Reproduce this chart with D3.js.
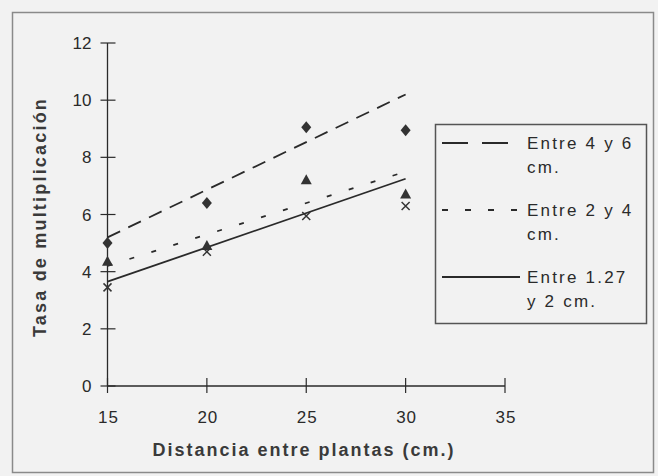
<!DOCTYPE html>
<html>
<head>
<meta charset="utf-8">
<script src="https://cdn.jsdelivr.net/npm/d3@7"></script>
<style>
  html, body { margin: 0; padding: 0; background: #f2f2f2; }
  svg { display: block; font-family: "Liberation Sans", Arial, sans-serif; }
</style>
</head>
<body>
<svg id="chart" width="658" height="476"></svg>
<script>
// Distancia entre plantas (cm.)
const distancias = [15, 20, 25, 30];
const xTicks = [15, 20, 25, 30, 35];
const yTicks = [0, 2, 4, 6, 8, 10, 12];

// Tasa de multiplicación por tamaño
const entre4y6 = [5.0, 6.4, 9.05, 8.95];
const entre2y4 = [4.35, 4.9, 7.2, 6.7];
const entre127y2 = [3.45, 4.7, 5.95, 6.3];

// Líneas de tendencia (valor en 15 y en 30)
const tendencia4y6 = [5.2, 10.2];
const tendencia2y4 = [4.2, 7.5];
const tendencia127y2 = [3.65, 7.25];

const leyenda = [
  { lineas: ["Entre 4 y 6", "cm."], dash: "26,14" },
  { lineas: ["Entre 2 y 4", "cm."], dash: "6,17" },
  { lineas: ["Entre 1.27", "y 2 cm."], dash: null },
];

const svg = d3.select("#chart");
const ink = "#2a2a2a";

// marco exterior
svg.append("rect")
  .attr("x", 12.5).attr("y", 12.5)
  .attr("width", 641).attr("height", 460)
  .attr("fill", "#f2f2f2")
  .attr("stroke", "#8a8a8a")
  .attr("stroke-width", 1.5);

const x = d3.scaleLinear().domain([15, 35]).range([107.5, 505]);
const y = d3.scaleLinear().domain([0, 12]).range([386, 43]);

// eje Y
svg.append("line")
  .attr("x1", x(15)).attr("x2", x(15))
  .attr("y1", y(0)).attr("y2", y(12))
  .attr("stroke", ink).attr("stroke-width", 1.3);
svg.selectAll(".ytick")
  .data(yTicks)
  .enter()
  .append("line")
  .attr("x1", x(15) - 7).attr("x2", x(15) + 8)
  .attr("y1", (d) => y(d)).attr("y2", (d) => y(d))
  .attr("stroke", ink).attr("stroke-width", 1.2);
svg.selectAll(".ylabel")
  .data(yTicks)
  .enter()
  .append("text")
  .attr("x", x(15) - 16)
  .attr("y", (d) => y(d) + 6)
  .attr("text-anchor", "end")
  .attr("font-size", 17)
  .attr("fill", ink)
  .text((d) => d);

// eje X
svg.append("line")
  .attr("x1", x(15)).attr("x2", x(35))
  .attr("y1", y(0)).attr("y2", y(0))
  .attr("stroke", ink).attr("stroke-width", 1.3);
svg.selectAll(".xtick")
  .data(xTicks)
  .enter()
  .append("line")
  .attr("x1", (d) => x(d)).attr("x2", (d) => x(d))
  .attr("y1", y(0) - 8).attr("y2", y(0) + 7)
  .attr("stroke", ink).attr("stroke-width", 1.2);
svg.selectAll(".xlabel")
  .data(xTicks)
  .enter()
  .append("text")
  .attr("x", (d) => x(d) + 1)
  .attr("y", 423)
  .attr("text-anchor", "middle")
  .attr("font-size", 17)
  .attr("letter-spacing", 1)
  .attr("fill", ink)
  .text((d) => d);

// títulos de ejes
svg.append("text")
  .attr("x", 304).attr("y", 456)
  .attr("text-anchor", "middle")
  .attr("font-size", 18)
  .attr("font-weight", "bold")
  .attr("letter-spacing", 2)
  .attr("fill", "#3a3a3a")
  .text("Distancia entre plantas (cm.)");
svg.append("text")
  .attr("transform", "translate(46,217) rotate(-90)")
  .attr("text-anchor", "middle")
  .attr("font-size", 18)
  .attr("font-weight", "bold")
  .attr("letter-spacing", 2.2)
  .attr("fill", "#3a3a3a")
  .text("Tasa de multiplicación");

// líneas de tendencia
const trend = [
  { v: tendencia4y6, dash: "14,9" },
  { v: tendencia2y4, dash: "5,18" },
  { v: tendencia127y2, dash: null },
];
trend.forEach((t) => {
  svg.append("line")
    .attr("x1", x(15)).attr("y1", y(t.v[0]))
    .attr("x2", x(30)).attr("y2", y(t.v[1]))
    .attr("stroke", ink)
    .attr("stroke-width", 1.8)
    .attr("stroke-dasharray", t.dash);
});

// puntos: rombos
svg.selectAll(".rombo")
  .data(distancias)
  .enter()
  .append("path")
  .attr("d", "M0,-6L5,0L0,6L-5,0Z")
  .attr("transform", (d, i) => `translate(${x(d)},${y(entre4y6[i])})`)
  .attr("fill", "#333");

// puntos: triángulos
svg.selectAll(".tri")
  .data(distancias)
  .enter()
  .append("path")
  .attr("d", "M0,-6L5.5,4L-5.5,4Z")
  .attr("transform", (d, i) => `translate(${x(d)},${y(entre2y4[i])})`)
  .attr("fill", "#333");

// puntos: cruces
svg.selectAll(".cruz")
  .data(distancias)
  .enter()
  .append("path")
  .attr("d", "M-4,-4L4,4M-4,4L4,-4")
  .attr("transform", (d, i) => `translate(${x(d)},${y(entre127y2[i])})`)
  .attr("stroke", "#333")
  .attr("stroke-width", 1.5);

// leyenda
svg.append("rect")
  .attr("x", 435.5).attr("y", 124.5)
  .attr("width", 211).attr("height", 199)
  .attr("fill", "#f2f2f2")
  .attr("stroke", "#555")
  .attr("stroke-width", 1.5);

const leg = svg.selectAll(".leg")
  .data(leyenda)
  .enter()
  .append("g")
  .attr("transform", (d, i) => `translate(0,${143 + i * 67})`);
leg.append("line")
  .attr("x1", 442).attr("x2", 520)
  .attr("y1", 0).attr("y2", 0)
  .attr("stroke", ink)
  .attr("stroke-width", 2)
  .attr("stroke-dasharray", (d) => d.dash);
leg.each(function (d) {
  d3.select(this).selectAll("text")
    .data(d.lineas)
    .enter()
    .append("text")
    .attr("x", 527)
    .attr("y", (t, j) => 6 + j * 24)
    .attr("font-size", 17)
    .attr("letter-spacing", 2.2)
    .attr("fill", ink)
    .text((t) => t);
});
</script>
</body>
</html>
